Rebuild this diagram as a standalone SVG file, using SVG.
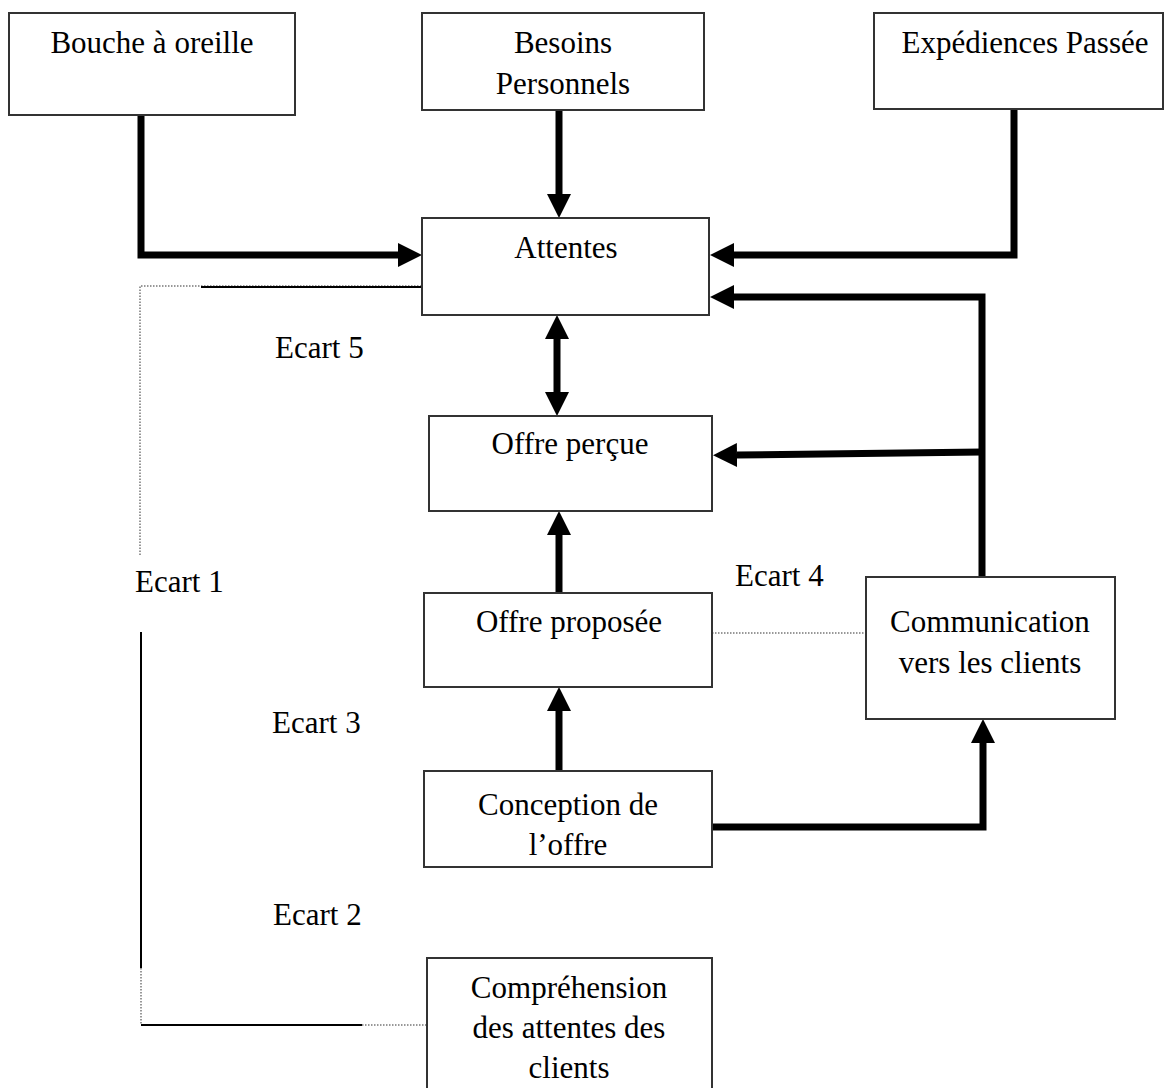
<svg xmlns="http://www.w3.org/2000/svg" width="1165" height="1088" viewBox="0 0 1165 1088">
  <style>
    .box { fill: #ffffff; stroke: #333333; stroke-width: 2; }
    .lbl { font-family: "Liberation Serif", "Times New Roman", serif; font-size: 31px; fill: #000000; }
    .mid { text-anchor: middle; }
    .flow { fill: none; stroke: #000000; stroke-width: 7; stroke-linejoin: miter; }
    .thin { fill: none; stroke: #000000; stroke-width: 2; }
    .dot { fill: none; stroke: #777777; stroke-width: 1.5; stroke-dasharray: 1.5 1.5; }
  </style>
  <defs>
    <marker id="head" markerUnits="userSpaceOnUse" markerWidth="24" markerHeight="24" refX="0" refY="12" orient="auto-start-reverse">
      <path d="M0,0 L24,12 L0,24 z" fill="#000000"/>
    </marker>
  </defs>

  <rect width="1165" height="1088" fill="#ffffff"/>

  <!-- gap brackets (Ecart 1) and dotted links -->
  <g id="gaps">
    <path class="dot" d="M140,555 V286 H422"/>
    <path class="thin" d="M201,287 H422"/>
    <path class="thin" d="M141,632 V968"/>
    <path class="dot" d="M141,968 V1025"/>
    <path class="thin" d="M141,1025 H362"/>
    <path class="dot" d="M362,1025 H427"/>
    <path class="dot" d="M712,633 H866"/>
  </g>

  <!-- connectors -->
  <g id="connectors">
    <path class="flow" d="M141,115 V255 H398" marker-end="url(#head)"/>
    <path class="flow" d="M559,110 V194" marker-end="url(#head)"/>
    <path class="flow" d="M1014,109 V255 H734" marker-end="url(#head)"/>
    <path class="flow" d="M982,577 V297 H734" marker-end="url(#head)"/>
    <path class="flow" d="M982,452 L737,455" marker-end="url(#head)"/>
    <path class="flow" d="M557,339 V392" marker-start="url(#head)" marker-end="url(#head)"/>
    <path class="flow" d="M559,593 V535" marker-end="url(#head)"/>
    <path class="flow" d="M559,771 V711" marker-end="url(#head)"/>
    <path class="flow" d="M712,827 H983 V743" marker-end="url(#head)"/>
  </g>

  <!-- nodes -->
  <g id="bouche">
    <rect class="box" x="9" y="13" width="286" height="102"/>
    <text class="lbl mid" x="152" y="53">Bouche à oreille</text>
  </g>
  <g id="besoins">
    <rect class="box" x="422" y="13" width="282" height="97"/>
    <text class="lbl mid" x="563" y="53">Besoins</text>
    <text class="lbl mid" x="563" y="94">Personnels</text>
  </g>
  <g id="experiences">
    <rect class="box" x="874" y="13" width="289" height="96"/>
    <text class="lbl mid" x="1025" y="53">Expédiences Passée</text>
  </g>
  <g id="attentes">
    <rect class="box" x="422" y="218" width="287" height="97"/>
    <text class="lbl mid" x="566" y="258">Attentes</text>
  </g>
  <g id="offre-percue">
    <rect class="box" x="429" y="416" width="283" height="95"/>
    <text class="lbl mid" x="570" y="454">Offre perçue</text>
  </g>
  <g id="offre-proposee">
    <rect class="box" x="424" y="593" width="288" height="94"/>
    <text class="lbl mid" x="569" y="632">Offre proposée</text>
  </g>
  <g id="communication">
    <rect class="box" x="866" y="577" width="249" height="142"/>
    <text class="lbl mid" x="990" y="632">Communication</text>
    <text class="lbl mid" x="990" y="673">vers les clients</text>
  </g>
  <g id="conception">
    <rect class="box" x="424" y="771" width="288" height="96"/>
    <text class="lbl mid" x="568" y="815">Conception de</text>
    <text class="lbl mid" x="568" y="855">l’offre</text>
  </g>
  <g id="comprehension">
    <rect class="box" x="427" y="958" width="285" height="140"/>
    <text class="lbl mid" x="569" y="998">Compréhension</text>
    <text class="lbl mid" x="569" y="1038">des attentes des</text>
    <text class="lbl mid" x="569" y="1078">clients</text>
  </g>

  <!-- gap labels -->
  <g id="ecarts">
    <text class="lbl" x="275" y="358">Ecart 5</text>
    <text class="lbl" x="135" y="592">Ecart 1</text>
    <text class="lbl" x="735" y="586">Ecart 4</text>
    <text class="lbl" x="272" y="733">Ecart 3</text>
    <text class="lbl" x="273" y="925">Ecart 2</text>
  </g>
</svg>
